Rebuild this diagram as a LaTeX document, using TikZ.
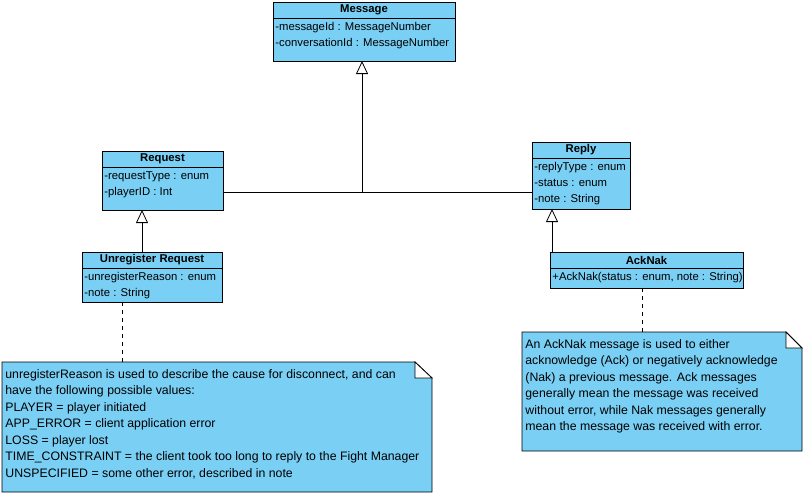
\documentclass[tikz,border=0pt]{standalone}
\usepackage{fontspec}
\setmainfont{Liberation Sans}
\usetikzlibrary{arrows.meta, positioning}

\definecolor{umlblue}{RGB}{122,207,245}
\newcommand{\umlfont}{\fontsize{11.3}{16}\selectfont}
\newcommand{\notefont}{\fontsize{12.3}{16.5}\selectfont}

\tikzset{
  classhead/.style={draw, fill=umlblue, minimum height=16pt, inner sep=0pt, outer sep=0pt, font=\umlfont\bfseries},
  classbody/.style={draw, fill=umlblue, inner sep=0pt, outer sep=0pt},
  members/.style={anchor=north west, align=left, inner sep=0pt, font=\umlfont},
  notebox/.style={inner sep=0pt, outer sep=0pt, anchor=north west},
  notetext/.style={anchor=north west, align=left, inner sep=0pt, font=\notefont},
  inherit/.style={-{Triangle[open, length=13pt, width=12pt]}},
  anchorline/.style={dash pattern=on 4pt off 4pt},
}

\begin{document}
\begin{tikzpicture}[x=1pt, y=-1pt, line width=0.8pt]
\useasboundingbox (0,0) rectangle (806,496);

% classes
\node[classhead, minimum width=182pt, anchor=north west] (message) at (273,2) {Message};
\node[classbody, minimum width=182pt, minimum height=43pt, below=0pt of message] (message-body) {};
\node[members] at ([xshift=2pt, yshift=-4pt]message-body.north west) {-messageId : MessageNumber\\-conversationId : MessageNumber};

\node[classhead, minimum width=121pt, anchor=north west] (request) at (102,151) {Request};
\node[classbody, minimum width=121pt, minimum height=43pt, below=0pt of request] (request-body) {};
\node[members] at ([xshift=2pt, yshift=-4pt]request-body.north west) {-requestType : enum\\-playerID : Int};

\node[classhead, minimum width=98pt, anchor=north west] (reply) at (532,142) {Reply};
\node[classbody, minimum width=98pt, minimum height=51pt, below=0pt of reply] (reply-body) {};
\node[members] at ([xshift=2pt, yshift=-4pt]reply-body.north west) {-replyType : enum\\-status : enum\\-note : String};

\node[classhead, minimum width=140pt, anchor=north west] (unregister) at (82,252) {Unregister Request};
\node[classbody, minimum width=140pt, minimum height=34pt, below=0pt of unregister] (unregister-body) {};
\node[members] at ([xshift=2pt, yshift=-4pt]unregister-body.north west) {-unregisterReason : enum\\-note : String};

\node[classhead, minimum width=193pt, anchor=north west] (acknak) at (550,252) {AckNak};
\node[classbody, minimum width=193pt, minimum height=20pt, below=0pt of acknak] (acknak-body) {};
\node[members] at ([xshift=2pt, yshift=-4pt]acknak-body.north west) {+AckNak(status : enum, note : String)};

% notes
\node[notebox, minimum width=430pt, minimum height=130pt] (note1) at (2,362) {};
\draw[fill=umlblue] (note1.north west) -- ([xshift=-17pt]note1.north east) -- ([yshift=-16pt]note1.north east) -- (note1.south east) -- (note1.south west) -- cycle;
\draw[fill=white] ([xshift=-17pt]note1.north east) -- ([xshift=-17pt, yshift=-16pt]note1.north east) -- ([yshift=-16pt]note1.north east) -- cycle;
\node[notetext] at ([xshift=3pt, yshift=-7pt]note1.north west) {unregisterReason is used to describe the cause for disconnect, and can\\have the following possible values:\\PLAYER = player initiated\\APP\_ERROR = client application error\\LOSS = player lost\\TIME\_CONSTRAINT = the client took too long to reply to the Fight Manager\\UNSPECIFIED = some other error, described in note};

\node[notebox, minimum width=280pt, minimum height=119pt] (note2) at (522,332) {};
\draw[fill=umlblue] (note2.north west) -- ([xshift=-16pt]note2.north east) -- ([yshift=-16pt]note2.north east) -- (note2.south east) -- (note2.south west) -- cycle;
\draw[fill=white] ([xshift=-16pt]note2.north east) -- ([xshift=-16pt, yshift=-16pt]note2.north east) -- ([yshift=-16pt]note2.north east) -- cycle;
\node[notetext] at ([xshift=3pt, yshift=-7pt]note2.north west) {An AckNak message is used to either\\acknowledge (Ack) or negatively acknowledge\\(Nak) a previous message. Ack messages\\generally mean the message was received\\without error, while Nak messages generally\\mean the message was received with error.};

% generalizations
\coordinate (join) at (362,192);
\draw (request-body.east |- join) -- (reply-body.west |- join);
\draw[inherit] (join) -- (join |- message-body.south);
\draw[inherit] ([xshift=-10pt]unregister.north) -- ([xshift=-10pt]unregister.north |- request-body.south);
\draw[inherit] ([xshift=2pt]acknak.north west) -- ([xshift=2pt]acknak.north west |- reply-body.south);

% note anchors
\draw[anchorline] ([xshift=40pt]unregister-body.south west) -- ([xshift=40pt]unregister-body.south west |- note1.north);
\draw[anchorline] ([xshift=92pt]acknak-body.south west) -- ([xshift=92pt]acknak-body.south west |- note2.north);
\end{tikzpicture}
\end{document}
